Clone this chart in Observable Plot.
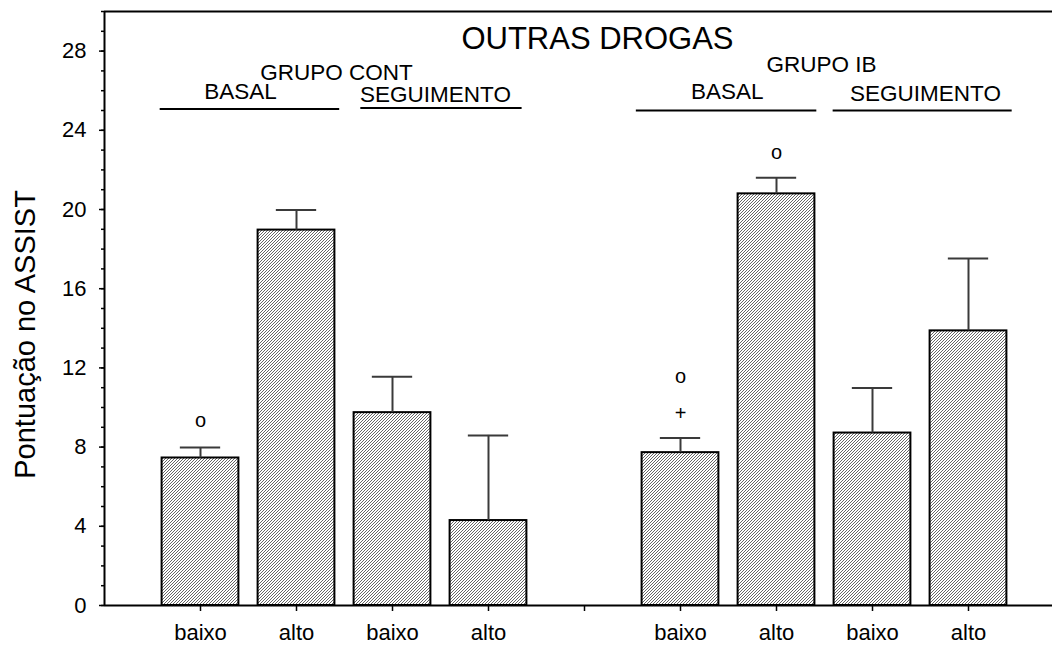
<!DOCTYPE html>
<html>
<head>
<meta charset="utf-8">
<script src="https://cdn.jsdelivr.net/npm/d3@7"></script>
<script src="https://cdn.jsdelivr.net/npm/@observablehq/plot@0.6"></script>
<style>
  html, body { margin: 0; padding: 0; background: #fff; }
  #chart svg { display: block; }
</style>
</head>
<body>
<div id="chart"></div>
<script>
// ---- data ----
const groups = ["GRUPO CONT", "GRUPO CONT", "GRUPO CONT", "GRUPO CONT", "GRUPO IB", "GRUPO IB", "GRUPO IB", "GRUPO IB"];
const phases = ["BASAL", "BASAL", "SEGUIMENTO", "SEGUIMENTO", "BASAL", "BASAL", "SEGUIMENTO", "SEGUIMENTO"];
const levels = ["baixo", "alto", "baixo", "alto", "baixo", "alto", "baixo", "alto"];
const means  = [7.45, 18.96, 9.74, 4.29, 7.72, 20.79, 8.71, 13.87];
const errors = [0.53, 1.02, 1.81, 4.30, 0.74, 0.81, 2.27, 3.65];

const yTicks = [0, 4, 8, 12, 16, 20, 24, 28];
const xTickLabels = ["baixo", "alto", "baixo", "alto", "", "baixo", "alto", "baixo", "alto"];

const title = "OUTRAS DROGAS";
const yLabel = "Pontuação no ASSIST";

// significance markers: bar index, symbol, y value
const markerBar = [0, 4, 4, 5];
const markerSym = ["o", "o", "+", "o"];
const markerY   = [9.32, 11.58, 9.70, 22.85];

// header labels (data units)
const headerText = ["GRUPO CONT", "GRUPO IB", "BASAL", "SEGUIMENTO", "BASAL", "SEGUIMENTO"];
const headerX    = [2.417, 7.47, 1.417, 3.448, 6.486, 8.552];
const headerY    = [26.89, 27.31, 25.94, 25.80, 25.93, 25.86];
// header underlines (data units)
const lineX1 = [0.58, 2.67, 5.54, 7.59];
const lineX2 = [2.45, 4.35, 7.42, 9.455];
const lineY  = [25.08, 25.13, 25.0, 25.0];

// ---- build tables ----
const groupOrder = ["GRUPO CONT", "GRUPO IB"];
const phaseOrder = ["BASAL", "SEGUIMENTO"];
const levelOrder = ["baixo", "alto"];
const bars = means.map((m, i) => ({
  group: groups[i], phase: phases[i], level: levels[i], mean: m, err: errors[i],
  slot: groupOrder.indexOf(groups[i]) * 5 + phaseOrder.indexOf(phases[i]) * 2 + levelOrder.indexOf(levels[i]) + 1
}));
const markers = markerBar.map((b, i) => ({x: bars[b].slot, y: markerY[i], s: markerSym[i]}));
const headers = headerText.map((t, i) => ({t, x: headerX[i], y: headerY[i]}));
const hlines = lineX1.map((x1, i) => ({x1, x2: lineX2[i], y: lineY[i]}));

const W = 1052, H = 647;
const halfBar = 0.4, halfCap = 0.21;

const chart = Plot.plot({
  width: W,
  height: H,
  marginLeft: 104,
  marginRight: 0,
  marginTop: 11,
  marginBottom: 42,
  style: {fontFamily: "'Liberation Sans', Arial, Helvetica, sans-serif", background: "#fff", color: "#000"},
  x: {type: "linear", domain: [0, (W - 104) / 96]},
  y: {domain: [0, 30]},
  marks: [
    // bars
    Plot.rectY(bars, {x1: d => d.slot - halfBar, x2: d => d.slot + halfBar, y: "mean",
      fill: "url(#hatch)", stroke: "#000", strokeWidth: 2}),
    // error bars
    Plot.ruleX(bars, {x: "slot", y1: "mean", y2: d => d.mean + d.err, stroke: "#3a3a3a", strokeWidth: 2}),
    Plot.ruleY(bars, {y: d => d.mean + d.err, x1: d => d.slot - halfCap, x2: d => d.slot + halfCap, stroke: "#3a3a3a", strokeWidth: 2}),
    // markers
    Plot.text(markers, {x: "x", y: "y", text: "s", fontSize: 20, fill: "#000"}),
    // headers
    Plot.text([title], {x: 5.135, y: 28.6, text: d => d, fontSize: 31, fill: "#000"}),
    Plot.text(headers, {x: "x", y: "y", text: "t", fontSize: 22.5, fill: "#000"}),
    Plot.ruleY(hlines, {y: "y", x1: "x1", x2: "x2", stroke: "#000", strokeWidth: 2}),
    // axes
    Plot.axisY({ticks: d3.range(0, 31), tickSize: 3, tickFormat: () => "", label: null, strokeWidth: 1.5}),
    Plot.axisY({ticks: yTicks, tickSize: 5, tickPadding: 13, fontSize: 22, label: null, strokeWidth: 1.5}),
    Plot.axisX({ticks: d3.range(1, 10), tickFormat: d => xTickLabels[d - 1], tickSize: 6, tickPadding: 13, fontSize: 22, label: null, strokeWidth: 1.5}),
    Plot.ruleX([0], {y1: 0, y2: 30, stroke: "#000", strokeWidth: 2}),
    Plot.ruleY([0], {stroke: "#000", strokeWidth: 2}),
    Plot.ruleY([30], {stroke: "#000", strokeWidth: 2}),
    // y label
    Plot.text([yLabel], {frameAnchor: "left", y: 13.69, text: d => d, rotate: -90, textAnchor: "middle", dx: -79, fontSize: 29, fill: "#000"})
  ]
});

// hatch pattern for bar fill
d3.select(chart).insert("defs", ":first-child").html(
  `<pattern id="hatch" patternUnits="userSpaceOnUse" width="3" height="3">
     <rect width="3" height="3" fill="#ffffff"/>
     <path d="M-1,1 L1,-1 M0,3 L3,0 M2,4 L4,2" stroke="#4a4a4a" stroke-width="0.85"/>
   </pattern>`
);

document.getElementById("chart").appendChild(chart);
</script>
</body>
</html>
